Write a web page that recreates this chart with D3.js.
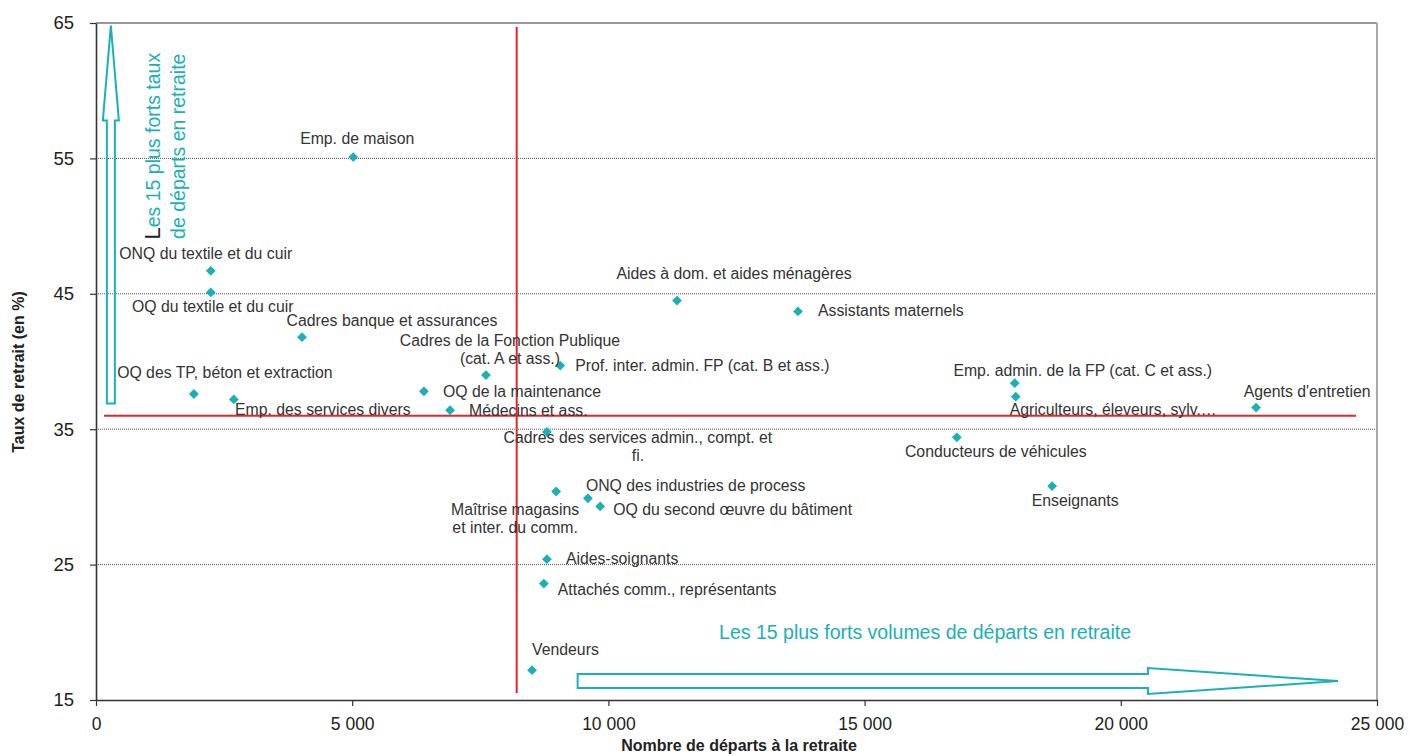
<!DOCTYPE html>
<html>
<head>
<meta charset="utf-8">
<script src="https://cdn.jsdelivr.net/npm/d3@7"></script>
<style>
  body { margin: 0; background: #fff; }
  svg { font-family: "Liberation Sans", Arial, sans-serif; }
</style>
</head>
<body>
<div id="content"></div>
<script>
// métiers (les retours à la ligne suivent le graphique d'origine)
const names = [
  "Emp. de maison",
  "ONQ du textile et du cuir",
  "OQ du textile et du cuir",
  "Cadres banque et assurances",
  "Cadres de la Fonction Publique\n(cat. A et ass.)",
  "Prof. inter. admin. FP (cat. B et ass.)",
  "OQ des TP, béton et extraction",
  "Emp. des services divers",
  "OQ de la maintenance",
  "Médecins et ass.",
  "Cadres des services admin., compt. et\nfi.",
  "Maîtrise magasins\net inter. du comm.",
  "ONQ des industries de process",
  "OQ du second œuvre du bâtiment",
  "Aides-soignants",
  "Attachés comm., représentants",
  "Vendeurs",
  "Aides à dom. et aides ménagères",
  "Assistants maternels",
  "Emp. admin. de la FP (cat. C et ass.)",
  "Agriculteurs, éleveurs, sylv.…",
  "Agents d'entretien",
  "Conducteurs de véhicules",
  "Enseignants"
];
const departs = [5020, 2240, 2240, 4020, 7610, 9060, 1910, 2690, 6400, 6910,
  8800, 8980, 9600, 9840, 8800, 8740, 8510, 11340, 13700, 17930, 17950, 22640, 16800, 18660];
const taux = [55.1, 46.7, 45.1, 41.8, 39.0, 39.7, 37.6, 37.2, 37.8, 36.4,
  34.8, 30.4, 29.9, 29.3, 25.4, 23.6, 17.2, 44.5, 43.7, 38.4, 37.4, 36.6, 34.4, 30.8];

// moyennes (lignes rouges)
const meanDeparts = 8210;
const meanTaux = 36;

const xTicks = [0, 5000, 10000, 15000, 20000, 25000];
const yTicks = [15, 25, 35, 45, 55, 65];

const upText = ["Les 15 plus forts taux", "de départs en retraite"];
const rightText = "Les 15 plus forts volumes de départs en retraite";

// placement des étiquettes : [dx, dy, ancre]
const labelPos = [
  [4, -13, "middle"], [-5, -12, "middle"], [2, 20, "middle"], [90, -11, "middle"],
  [24, -29, "middle"], [15, 5, "start"], [31, -16, "middle"], [89, 16, "middle"],
  [19, 6, "start"], [19, 6, "start"], [91, 11, "middle"], [-41, 24, "middle"],
  [-2, -7, "start"], [13, 9, "start"], [19, 5, "start"], [14, 11, "start"],
  [0, -15, "start"], [57, -22, "middle"], [20, 5, "start"], [68, -7, "middle"],
  [-6, 18, "start"], [51, -11, "middle"], [39, 20, "middle"], [23, 20, "middle"]
];

const width = 1409, height = 756;
const teal = "#19b1b6", red = "#e3262a", ink = "#333";

const svg = d3.select("#content").append("svg")
  .attr("width", width).attr("height", height);

const xScale = d3.scaleLinear().domain([0, 25000]).range([96, 1377]);
const yScale = d3.scaleLinear().domain([15, 65]).range([700, 23]);

const fr = d3.formatLocale({decimal: ",", thousands: " ", grouping: [3], currency: ["", " €"]});
const fmt = fr.format(",");

// quadrillage pointillé
svg.append("g")
  .selectAll("line")
  .data(yTicks.slice(1, -1))
  .enter().append("line")
  .attr("x1", xScale(0)).attr("x2", xScale(25000))
  .attr("y1", d => yScale(d)).attr("y2", d => yScale(d))
  .attr("stroke", "#555").attr("stroke-width", 1)
  .attr("stroke-dasharray", "1,1");

// bordure haut / droite
svg.append("line")
  .attr("x1", xScale(0)).attr("x2", xScale(25000))
  .attr("y1", yScale(65)).attr("y2", yScale(65))
  .attr("stroke", "#999").attr("stroke-width", 2);
svg.append("line")
  .attr("x1", xScale(25000)).attr("x2", xScale(25000))
  .attr("y1", yScale(65)).attr("y2", yScale(15))
  .attr("stroke", "#aaa").attr("stroke-width", 2);

// axes
const xAxis = d3.axisBottom(xScale).tickValues(xTicks).tickFormat(fmt).tickSize(6).tickSizeOuter(0);
const yAxis = d3.axisLeft(yScale).tickValues(yTicks).tickSize(6).tickSizeOuter(0);

const gx = svg.append("g").attr("transform", `translate(0, ${yScale(15)})`).call(xAxis);
const gy = svg.append("g").attr("transform", `translate(${xScale(0)}, 0)`).call(yAxis);
[gx, gy].forEach(g => {
  g.select(".domain").attr("stroke", ink).attr("stroke-width", 1.6);
  g.selectAll(".tick line").attr("stroke", ink).attr("stroke-width", 1.2);
  g.selectAll(".tick text").attr("fill", "#222")
    .attr("font-family", "Liberation Sans, Arial, sans-serif");
});
gx.selectAll(".tick text").attr("font-size", 17.5).attr("dy", "1.2em");
gy.selectAll(".tick text").attr("font-size", 18.5).attr("x", -22);

// titres des axes
svg.append("text")
  .attr("x", 739).attr("y", 751)
  .attr("text-anchor", "middle").attr("font-weight", "bold")
  .attr("font-size", 16).attr("fill", "#222")
  .text("Nombre de départs à la retraite");
svg.append("text")
  .attr("transform", `translate(24, 372) rotate(-90)`)
  .attr("text-anchor", "middle").attr("font-weight", "bold")
  .attr("font-size", 16).attr("fill", "#222")
  .text("Taux de retrait (en %)");

// lignes des moyennes
svg.append("line")
  .attr("x1", xScale(meanDeparts)).attr("x2", xScale(meanDeparts))
  .attr("y1", yScale(65) + 4).attr("y2", yScale(15) - 7)
  .attr("stroke", red).attr("stroke-width", 2);
svg.append("line")
  .attr("x1", xScale(0) + 8).attr("x2", xScale(25000) - 21)
  .attr("y1", yScale(meanTaux)).attr("y2", yScale(meanTaux))
  .attr("stroke", red).attr("stroke-width", 2);

// flèche verticale
const ax = xScale(290), ay0 = yScale(36.9), ayH = yScale(57.8), ay1 = yScale(64.8);
svg.append("path")
  .attr("d", `M${ax - 4},${ay0} L${ax - 4},${ayH} L${ax - 8},${ayH} L${ax},${ay1} L${ax + 8},${ayH} L${ax + 4},${ayH} L${ax + 4},${ay0} Z`)
  .attr("fill", "none").attr("stroke", teal).attr("stroke-width", 2);

// flèche horizontale
const hy = yScale(16.4), hx0 = xScale(9400), hxH = xScale(20530), hx1 = xScale(24240);
svg.append("path")
  .attr("d", `M${hx0},${hy - 7} L${hxH},${hy - 7} L${hxH},${hy - 13} L${hx1},${hy} L${hxH},${hy + 13} L${hxH},${hy + 7} L${hx0},${hy + 7} Z`)
  .attr("fill", "none").attr("stroke", teal).attr("stroke-width", 2);

// textes des flèches
svg.append("text")
  .attr("x", xScale(16180)).attr("y", yScale(19.5))
  .attr("text-anchor", "middle").attr("font-size", 19.5).attr("fill", teal)
  .text(rightText);

const vt = svg.append("text")
  .attr("transform", `translate(${xScale(1250)}, ${yScale(55.9)}) rotate(-90)`)
  .attr("text-anchor", "middle").attr("font-size", 19.5).attr("fill", teal);
vt.append("tspan").attr("x", 0).attr("dy", 0)
  .call(t => t.append("tspan").attr("fill", "#222").attr("font-size", 22).text(upText[0][0]))
  .call(t => t.append("tspan").text(upText[0].slice(1)));
vt.append("tspan").attr("x", 0).attr("dy", 25).text(upText[1]);

// points
const points = names.map((n, i) => ({name: n, x: departs[i], y: taux[i], pos: labelPos[i]}));

svg.append("g").selectAll("path")
  .data(points).enter().append("path")
  .attr("d", d3.symbol().type(d3.symbolSquare).size(48))
  .attr("transform", d => `translate(${xScale(d.x)}, ${yScale(d.y)}) rotate(45)`)
  .attr("fill", teal);

// étiquettes
const labels = svg.append("g").selectAll("text")
  .data(points).enter().append("text")
  .attr("x", d => xScale(d.x) + d.pos[0])
  .attr("y", d => yScale(d.y) + d.pos[1])
  .attr("text-anchor", d => d.pos[2])
  .attr("font-size", 15.8).attr("fill", ink);
labels.each(function (d) {
  const el = d3.select(this);
  d.name.split("\n").forEach((line, k) => {
    el.append("tspan")
      .attr("x", xScale(d.x) + d.pos[0])
      .attr("dy", k === 0 ? 0 : 18)
      .text(line);
  });
});
</script>
</body>
</html>
